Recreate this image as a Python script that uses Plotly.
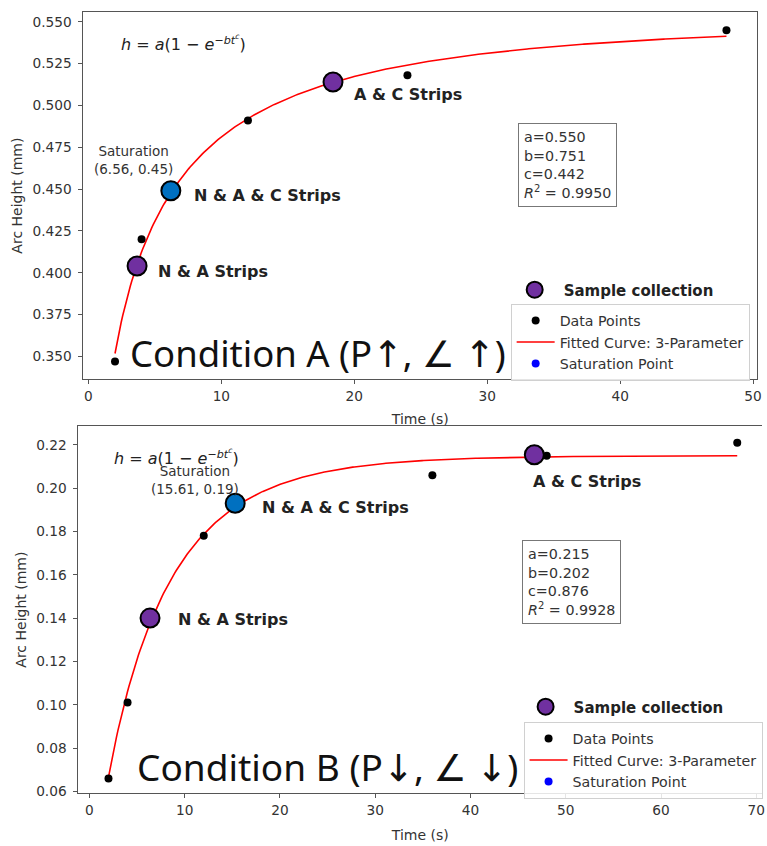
import numpy as np
import plotly.graph_objects as go

# ---------------- data ----------------
# Condition A
time_a = [2, 4, 12, 24, 48]
height_a = [0.347, 0.420, 0.491, 0.518, 0.545]
fit_a_a, fit_a_b, fit_a_c, fit_a_r2 = 0.550, 0.751, 0.442, 0.9950
sample_t_a = [3.66, 6.2, 18.4]
sample_h_a = [0.404, 0.449, 0.514]
sample_labels_a = ["N & A Strips", "N & A & C Strips", "A & C Strips"]
saturation_a = (6.56, 0.45)

# Condition B
time_b = [2, 4, 12, 36, 48, 68]
height_b = [0.066, 0.101, 0.178, 0.206, 0.215, 0.221]
fit_b_a, fit_b_b, fit_b_c, fit_b_r2 = 0.215, 0.202, 0.876, 0.9928
sample_t_b = [6.36, 15.3, 46.7]
sample_h_b = [0.140, 0.193, 0.2154]
sample_labels_b = ["N & A Strips", "N & A & C Strips", "A & C Strips"]
saturation_b = (15.61, 0.19)

xticks_a = [0, 10, 20, 30, 40, 50]
yticks_a = [0.350, 0.375, 0.400, 0.425, 0.450, 0.475, 0.500, 0.525, 0.550]
xticks_b = [0, 10, 20, 30, 40, 50, 60, 70]
yticks_b = [0.06, 0.08, 0.10, 0.12, 0.14, 0.16, 0.18, 0.20, 0.22]

PURPLE = "#7030a0"
BLUE = "#0070c0"
W, H = 767, 846
MPL = "DejaVu Sans"
BOLD = "DejaVu Sans"


def model(t, a, b, c):
    t = np.asarray(t, dtype=float)
    return a * (1 - np.exp(-b * t ** c))


fig = go.Figure()


def add_panel(xa, ya, t, h, a, b, c, st, sh, sat_pt, legend_box, legend_sample):
    tc = np.linspace(min(t), max(t), 400)
    fig.add_trace(go.Scatter(x=tc, y=model(tc, a, b, c), mode="lines",
                             line=dict(color="red", width=1.6),
                             name="Fitted Curve: 3-Parameter", xaxis=xa, yaxis=ya,
                             legend=legend_box, legendrank=2))
    fig.add_trace(go.Scatter(x=t, y=h, mode="markers",
                             marker=dict(color="black", size=8),
                             name="Data Points", xaxis=xa, yaxis=ya,
                             legend=legend_box, legendrank=1))
    fig.add_trace(go.Scatter(x=[sat_pt[0]], y=[sat_pt[1]], mode="markers",
                             marker=dict(color="blue", size=8),
                             name="Saturation Point", xaxis=xa, yaxis=ya,
                             legend=legend_box, legendrank=3))
    fig.add_trace(go.Scatter(x=st, y=sh, mode="markers",
                             marker=dict(color=[PURPLE, BLUE, PURPLE], size=19,
                                         line=dict(color="black", width=2)),
                             name="<b>Sample collection</b>", xaxis=xa, yaxis=ya,
                             legend=legend_sample))


add_panel("x", "y", time_a, height_a, fit_a_a, fit_a_b, fit_a_c,
          sample_t_a, sample_h_a, (sample_t_a[1], sample_h_a[1]), "legend", "legend2")
add_panel("x2", "y2", time_b, height_b, fit_b_a, fit_b_b, fit_b_c,
          sample_t_b, sample_h_b, (sample_t_b[1], sample_h_b[1]), "legend3", "legend4")

axis_common = dict(showline=True, linecolor="#555", linewidth=1.2, ticks="outside",
                   ticklen=4, tickcolor="#555", showgrid=False, zeroline=False,
                   tickfont=dict(family=MPL, size=13.7, color="#333"))
title_font = dict(family=MPL, size=14, color="#333")

fig.update_layout(
    width=W, height=H, margin=dict(l=0, r=0, t=0, b=0),
    paper_bgcolor="white", plot_bgcolor="white",
    xaxis=dict(domain=[84 / W, 762 / W], anchor="y", range=[-0.374, 50.30],
               tickvals=xticks_a, mirror=True,
               title=dict(text="Time (s)", font=title_font, standoff=11),
               **axis_common),
    yaxis=dict(domain=[1 - 382 / H, 1 - 12 / H], anchor="x", range=[0.3363, 0.5559],
               tickvals=yticks_a, tickformat=".3f", mirror=True, ticklabelstandoff=4,
               title=dict(text="Arc Height (mm)", font=title_font, standoff=6),
               **axis_common),
    xaxis2=dict(domain=[79 / W, 1.0], anchor="y2", range=[-1.15, 70.6],
                tickvals=xticks_b, mirror=True,
                title=dict(text="Time (s)", font=title_font, standoff=13),
                **axis_common),
    yaxis2=dict(domain=[1 - 799 / H, 1 - 429 / H], anchor="x2", range=[0.0591, 0.2287],
                tickvals=yticks_b, tickformat=".2f", mirror=False, ticklabelstandoff=4,
                title=dict(text="Arc Height (mm)", font=title_font, standoff=6),
                **axis_common),
    legend=dict(x=514 / W, y=1 - 306 / H, xanchor="left", yanchor="top",
                bordercolor="#d0d0d0", borderwidth=1, bgcolor="rgba(255,255,255,0.85)",
                font=dict(family=MPL, size=14.2, color="#333"), traceorder="normal",
                itemwidth=38),
    legend2=dict(x=509 / W, y=1 - 292 / H, xanchor="left", yanchor="middle",
                 borderwidth=0, bgcolor="rgba(0,0,0,0)", itemwidth=48,
                 font=dict(family=BOLD, size=15, color="#222")),
    legend3=dict(x=527 / W, y=1 - 727 / H, xanchor="left", yanchor="top",
                 bordercolor="#d0d0d0", borderwidth=1, bgcolor="rgba(255,255,255,0.85)",
                 font=dict(family=MPL, size=14.2, color="#333"), traceorder="normal",
                 itemwidth=38),
    legend4=dict(x=521 / W, y=1 - 712 / H, xanchor="left", yanchor="middle",
                 borderwidth=0, bgcolor="rgba(0,0,0,0)", itemwidth=46,
                 font=dict(family=BOLD, size=15, color="#222")),
)

formula = "<i>h</i> = <i>a</i>(1 − <i>e</i><sup>−<i>bt<sup>c</sup></i></sup>)"
ann = []
# formulas
ann.append(dict(x=120 / W, y=1 - 43 / H, xref="paper", yref="paper", text=formula,
                xanchor="left", yanchor="middle", showarrow=False,
                font=dict(family=MPL, size=16, color="#222")))
ann.append(dict(x=113 / W, y=1 - 460 / H, xref="paper", yref="paper", text=formula,
                xanchor="left", yanchor="middle", showarrow=False,
                font=dict(family=MPL, size=16, color="#222")))
# saturation labels
ann.append(dict(x=saturation_a[0], y=saturation_a[1], xref="x", yref="y",
                text=f"Saturation<br>({saturation_a[0]:.2f}, {saturation_a[1]:.2f})",
                showarrow=False, xanchor="center", yanchor="bottom", xshift=-42, yshift=10,
                font=dict(family=MPL, size=13.5, color="#333")))
ann.append(dict(x=saturation_b[0], y=saturation_b[1], xref="x2", yref="y2",
                text=f"Saturation<br>({saturation_b[0]:.2f}, {saturation_b[1]:.2f})",
                showarrow=False, xanchor="center", yanchor="bottom", xshift=-43, yshift=11,
                font=dict(family=MPL, size=13.5, color="#333")))
# sample labels
shifts_a = [(19, -5), (21, -5), (19, -12)]
shifts_b = [(26, -1), (25, -4), (-3, -27)]
for tx, hy, lab, (dx, dy) in zip(sample_t_a, sample_h_a, sample_labels_a, shifts_a):
    ann.append(dict(x=tx, y=hy, xref="x", yref="y", text=f"<b>{lab}</b>", showarrow=False,
                    xanchor="left", yanchor="middle", xshift=dx, yshift=dy,
                    font=dict(family=BOLD, size=16, color="#222")))
for tx, hy, lab, (dx, dy) in zip(sample_t_b, sample_h_b, sample_labels_b, shifts_b):
    ann.append(dict(x=tx, y=hy, xref="x2", yref="y2", text=f"<b>{lab}</b>", showarrow=False,
                    xanchor="left", yanchor="middle", xshift=dx, yshift=dy,
                    font=dict(family=BOLD, size=16, color="#222")))
# parameter boxes
ann.append(dict(x=521 / W, y=1 - 124 / H, xref="paper", yref="paper", showarrow=False,
                xanchor="left", yanchor="top", align="left",
                text=f"a={fit_a_a:.3f}<br>b={fit_a_b:.3f}<br>c={fit_a_c:.3f}<br><i>R</i><sup>2</sup> = {fit_a_r2:.4f}",
                bordercolor="#777", borderwidth=1, borderpad=5, bgcolor="white",
                font=dict(family=MPL, size=14.3, color="#333")))
ann.append(dict(x=525 / W, y=1 - 544 / H, xref="paper", yref="paper", showarrow=False,
                xanchor="left", yanchor="top", align="left",
                text=f"a={fit_b_a:.3f}<br>b={fit_b_b:.3f}<br>c={fit_b_c:.3f}<br><i>R</i><sup>2</sup> = {fit_b_r2:.4f}",
                bordercolor="#777", borderwidth=1, borderpad=5, bgcolor="white",
                font=dict(family=MPL, size=14.3, color="#333")))
# condition titles
SYM = "<span style='font-family:DejaVu Sans'>{}</span>"
cond_a = "Condition A (P" + SYM.format("↑") + ", " + SYM.format("∠") + " " + SYM.format("↑") + ")"
cond_b = "Condition B (P" + SYM.format("↓") + ", " + SYM.format("∠") + " " + SYM.format("↓") + ")"
ann.append(dict(x=129 / W, y=1 - 356 / H, xref="paper", yref="paper", showarrow=False,
                xanchor="left", yanchor="middle", text=cond_a,
                font=dict(family="Noto Sans", size=36.5, color="#111")))
ann.append(dict(x=136 / W, y=1 - 772 / H, xref="paper", yref="paper", showarrow=False,
                xanchor="left", yanchor="middle", text=cond_b,
                font=dict(family="Noto Sans", size=37, color="#111")))
fig.update_layout(annotations=ann)

fig.write_html("out.html", config={"displayModeBar": False},
               post_script="document.body.style.margin='0';document.body.style.overflow='hidden';")
